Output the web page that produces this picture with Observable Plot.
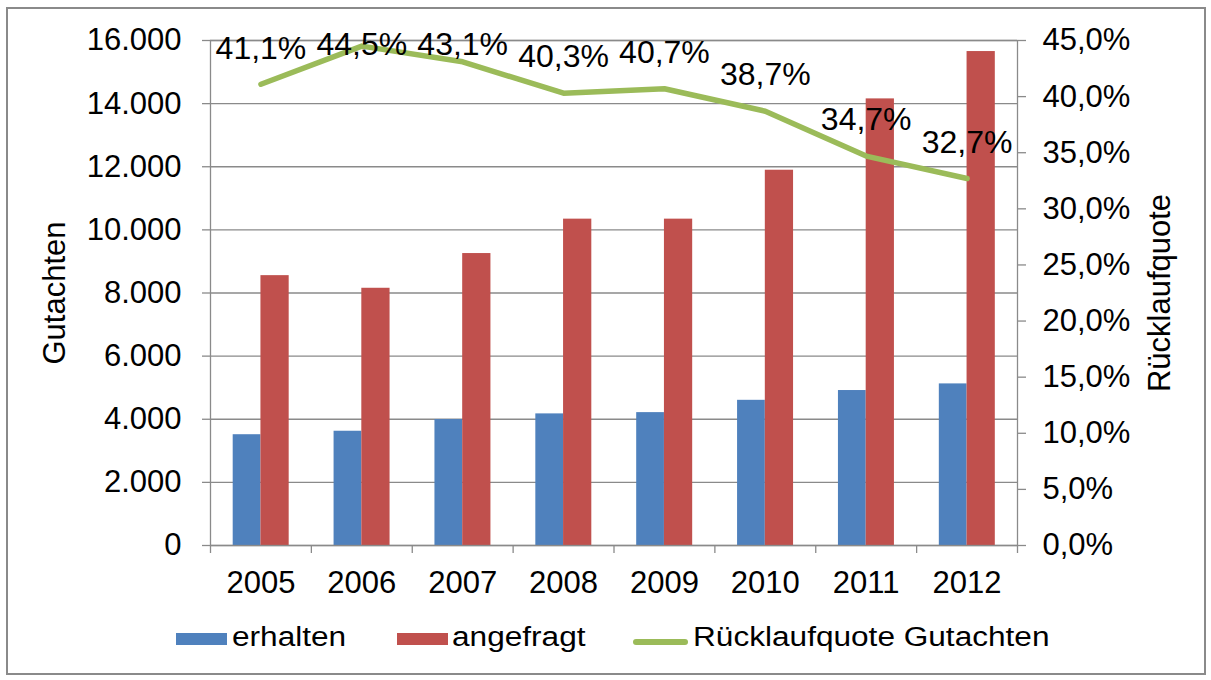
<!DOCTYPE html>
<html>
<head>
<meta charset="utf-8">
<script src="https://cdn.jsdelivr.net/npm/d3@7"></script>
<script src="https://cdn.jsdelivr.net/npm/@observablehq/plot@0.6"></script>
<style>
  html, body { margin: 0; padding: 0; background: #fff; }
  #page { position: relative; width: 1211px; height: 680px; overflow: hidden; font-family: "Liberation Sans", Arial, sans-serif; }
  #border { position: absolute; left: 6px; top: 7px; width: 1196px; height: 664px; border: 2px solid #8a8a8a; }
  #chart { position: absolute; left: 0; top: 0; }
  .sw { position: absolute; }
  .lt { position: absolute; font-size: 27px; line-height: 27px; color: #000; white-space: nowrap; transform: scaleX(1.17); transform-origin: left center; }
</style>
</head>
<body>
<div id="page">
  <div id="border"></div>
  <div id="chart"></div>
  <div id="legend"></div>
</div>
<script>
const years = [2005, 2006, 2007, 2008, 2009, 2010, 2011, 2012];
const erhalten = [3510, 3620, 3990, 4170, 4210, 4600, 4910, 5120];
const angefragt = [8550, 8150, 9250, 10340, 10340, 11890, 14150, 15650];
const quote = [41.1, 44.5, 43.1, 40.3, 40.7, 38.7, 34.7, 32.7];
const yTicks = [0, 2000, 4000, 6000, 8000, 10000, 12000, 14000, 16000];
const pctTicks = [0, 5, 10, 15, 20, 25, 30, 35, 40, 45];
const seriesNames = ["erhalten", "angefragt", "Rücklaufquote Gutachten"];
const colors = ["#4F81BD", "#C0504D", "#9BBB59"];

const table = years.map((year, i) => ({year, erhalten: erhalten[i], angefragt: angefragt[i], quote: quote[i]}));
const k = 16000 / 45; // secondary axis: 45% maps to 16.000
const boundaries = years.map(y => y - 0.5).concat([years[years.length - 1] + 0.5]);

const de = d3.formatLocale({decimal: ",", thousands: ".", grouping: [3], currency: ["", ""]});
const fmtNum = de.format(",");
const fmtPct = p => (Math.round(p * 10) / 10).toFixed(1).replace(".", ",") + "%";
const gray = "#8a8a8a";

const chart = Plot.plot({
  width: 1211,
  height: 610,
  marginLeft: 210,
  marginRight: 194,
  marginTop: 40,
  marginBottom: 65,
  x: {type: "linear", domain: [2004.5, 2012.5]},
  y: {domain: [0, 16000]},
  style: {fontFamily: "'Liberation Sans', Arial, sans-serif", fontSize: "30px", color: "#000", background: "transparent", overflow: "visible"},
  marks: [
    Plot.gridY(yTicks, {stroke: gray, strokeOpacity: 1, strokeWidth: 1.3}),
    Plot.rectY(table, {x1: d => d.year - 0.275, x2: d => d.year, y: "erhalten", fill: colors[0]}),
    Plot.rectY(table, {x1: d => d.year, x2: d => d.year + 0.28, y: "angefragt", fill: colors[1]}),
    Plot.frame({stroke: gray, strokeWidth: 1.3}),
    Plot.axisY(yTicks, {anchor: "left", tickSize: 8, tickPadding: 21, tickFormat: fmtNum, stroke: gray, strokeWidth: 1.3, fill: "#000", fontSize: 31, label: null}),
    Plot.axisY(pctTicks.map(p => p * k), {anchor: "right", tickSize: 8, tickPadding: 17, tickFormat: v => fmtPct(v / k), stroke: gray, strokeWidth: 1.3, fill: "#000", fontSize: 31, label: null}),
    Plot.axisX(years, {anchor: "bottom", tickSize: 0, tickPadding: 25, tickFormat: d => String(d), fill: "#000", fontSize: 31, label: null}),
    Plot.axisX(boundaries, {anchor: "bottom", tickSize: 8, tickFormat: () => "", stroke: gray, strokeWidth: 1.3, label: null}),
    Plot.line(table, {x: "year", y: d => d.quote * k, stroke: colors[2], strokeWidth: 5.5, strokeLinecap: "round", strokeLinejoin: "round"}),
    Plot.text(table.filter(d => d.quote <= 42.5), {x: "year", y: d => d.quote * k, text: d => fmtPct(d.quote), dy: -36, fontSize: 32, fill: "#000"}),
    Plot.text(table.filter(d => d.quote > 42.5), {x: "year", frameAnchor: "top", text: d => fmtPct(d.quote), dy: -8, fontSize: 32, fill: "#000"}),
    Plot.text(["Gutachten"], {frameAnchor: "left", textAnchor: "middle", rotate: -90, dx: -155, fontSize: 31, fill: "#000"}),
    Plot.text(["Rücklaufquote"], {frameAnchor: "right", textAnchor: "middle", rotate: -90, dx: 143, fontSize: 31, fill: "#000"})
  ]
});
document.getElementById("chart").appendChild(chart);

// legend
const legend = document.getElementById("legend");
const items = [
  {type: "rect", left: 176, textLeft: 232},
  {type: "rect", left: 397, textLeft: 452},
  {type: "line", left: 633, textLeft: 693}
];
items.forEach((it, i) => {
  const sw = document.createElement("div");
  sw.className = "sw";
  sw.style.left = it.left + "px";
  sw.style.background = colors[i];
  if (it.type === "rect") {
    sw.style.top = "633px"; sw.style.width = "51px"; sw.style.height = "12px";
  } else {
    sw.style.top = "639px"; sw.style.width = "55px"; sw.style.height = "6px"; sw.style.borderRadius = "3px";
  }
  legend.appendChild(sw);
  const t = document.createElement("div");
  t.className = "lt";
  t.style.left = it.textLeft + "px";
  t.style.top = "624px";
  t.textContent = seriesNames[i];
  legend.appendChild(t);
});
</script>
</body>
</html>
